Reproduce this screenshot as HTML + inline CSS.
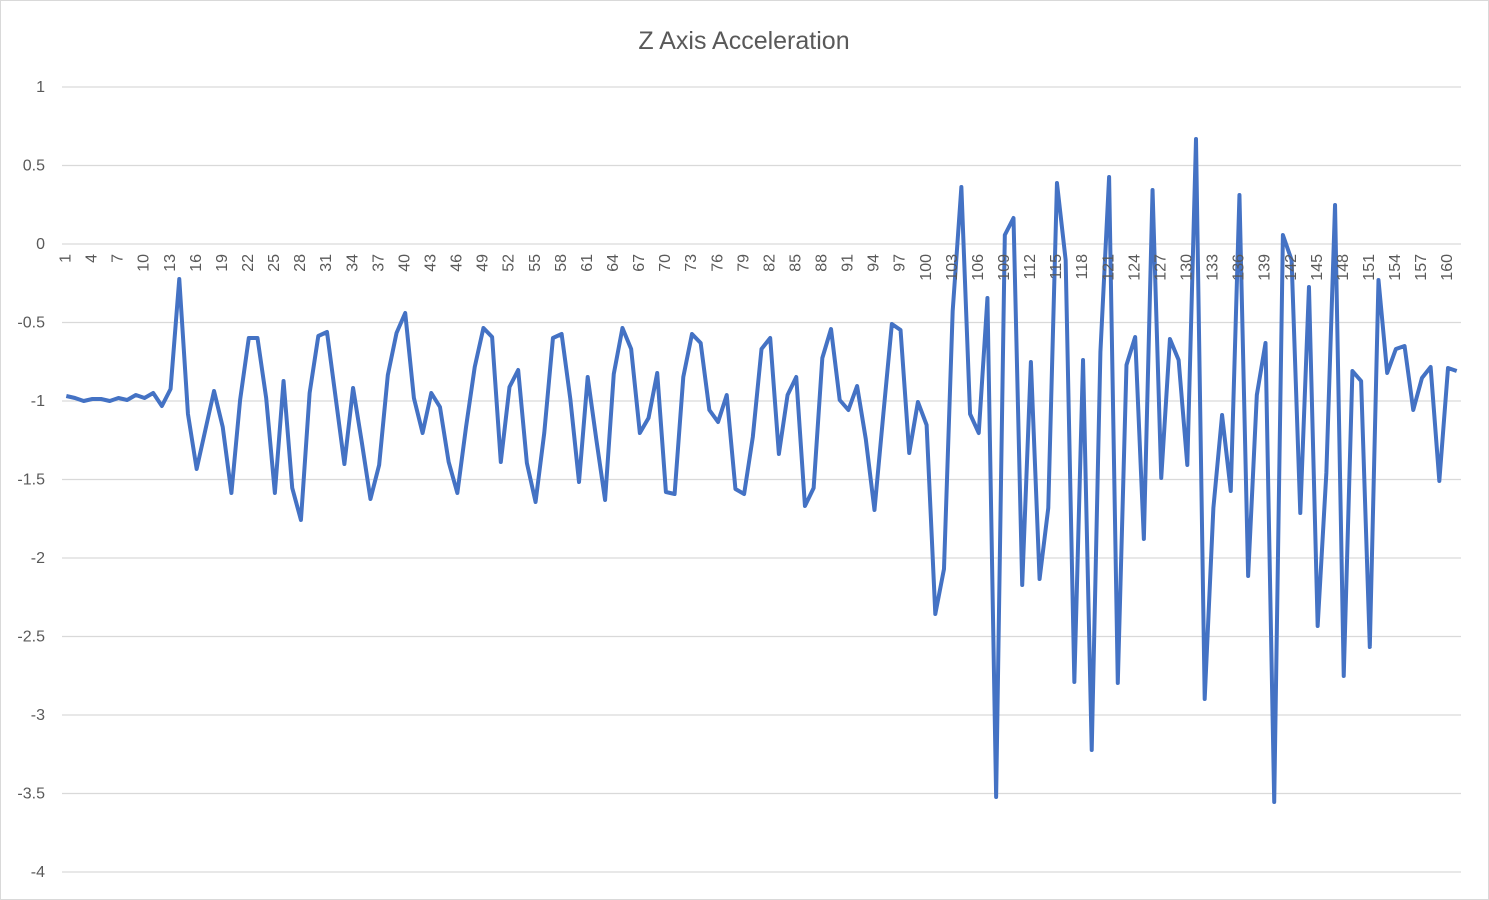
<!DOCTYPE html>
<html><head><meta charset="utf-8"><style>
html,body{margin:0;padding:0;background:#fff;}
svg{display:block;font-family:"Liberation Sans",sans-serif;}
</style></head><body>
<svg width="1489" height="900" viewBox="0 0 1489 900" xmlns="http://www.w3.org/2000/svg">
<rect x="0.5" y="0.5" width="1488" height="899" fill="#fff" stroke="#d9d9d9"/>
<text x="744" y="49" text-anchor="middle" font-size="25" fill="#595959">Z Axis Acceleration</text>
<g stroke="#d9d9d9" stroke-width="1.3">
<line x1="62" x2="1461" y1="87" y2="87"/><line x1="62" x2="1461" y1="165.5" y2="165.5"/><line x1="62" x2="1461" y1="244" y2="244"/><line x1="62" x2="1461" y1="322.5" y2="322.5"/><line x1="62" x2="1461" y1="401" y2="401"/><line x1="62" x2="1461" y1="479.5" y2="479.5"/><line x1="62" x2="1461" y1="558" y2="558"/><line x1="62" x2="1461" y1="636.5" y2="636.5"/><line x1="62" x2="1461" y1="715" y2="715"/><line x1="62" x2="1461" y1="793.5" y2="793.5"/><line x1="62" x2="1461" y1="872" y2="872"/>
</g>
<g font-size="16" fill="#595959" text-anchor="end" dominant-baseline="middle">
<text x="45" y="88">1</text><text x="45" y="166.5">0.5</text><text x="45" y="245">0</text><text x="45" y="323.5">-0.5</text><text x="45" y="402">-1</text><text x="45" y="480.5">-1.5</text><text x="45" y="559">-2</text><text x="45" y="637.5">-2.5</text><text x="45" y="716">-3</text><text x="45" y="794.5">-3.5</text><text x="45" y="873">-4</text>
</g>
<polyline fill="none" stroke="#4472C4" stroke-width="4" stroke-linejoin="round" vector-effect="non-scaling-stroke" transform="translate(66.3,0) scale(8.69,1)" points="0,396 1,398 2,401 3,399 4,399 5,401 6,398 7,400 8,395 9,398 10,393 11,406 12,389 13,279 14,414 15,469 16,430 17,391 18,427 19,493 20,400 21,338 22,338 23,398 24,493 25,381 26,488 27,520 28,393 29,336 30,332 31,398 32,464 33,388 34,442 35,499 36,465 37,375 38,333 39,313 40,398 41,433 42,393 43,407 44,462 45,493 46,427 47,367 48,328 49,337 50,462 51,387 52,370 53,463 54,502 55,433 56,338 57,334 58,399 59,482 60,377 61,440 62,500 63,374 64,328 65,349 66,433 67,418 68,373 69,492 70,494 71,377 72,334 73,343 74,410 75,422 76,395 77,489 78,494 79,437 80,349 81,338 82,454 83,395 84,377 85,506 86,488 87,358 88,329 89,400 90,410 91,386 92,439 93,510 94,416 95,324 96,330 97,453 98,402 99,425 100,614 101,569 102,311 103,187 104,414 105,433 106,298 107,797 108,235 109,218 110,585 111,362 112,579 113,508 114,183 115,260 116,682 117,360 118,750 119,352 120,177 121,683 122,365 123,337 124,539 125,190 126,478 127,339 128,360 129,465 130,139 131,699 132,508 133,415 134,491 135,195 136,576 137,395 138,343 139,802 140,235 141,260 142,513 143,287 144,626 145,473 146,205 147,676 148,371 149,381 150,647 151,280 152,373 153,349 154,346 155,410 156,378 157,367 158,481 159,368 160,371"/>
<g font-size="16" fill="#595959" text-anchor="end" dominant-baseline="middle">
<text transform="translate(66.3,254) rotate(-90)">1</text>
<text transform="translate(92.4,254) rotate(-90)">4</text>
<text transform="translate(118.4,254) rotate(-90)">7</text>
<text transform="translate(144.5,254) rotate(-90)">10</text>
<text transform="translate(170.6,254) rotate(-90)">13</text>
<text transform="translate(196.7,254) rotate(-90)">16</text>
<text transform="translate(222.7,254) rotate(-90)">19</text>
<text transform="translate(248.8,254) rotate(-90)">22</text>
<text transform="translate(274.9,254) rotate(-90)">25</text>
<text transform="translate(300.9,254) rotate(-90)">28</text>
<text transform="translate(327.0,254) rotate(-90)">31</text>
<text transform="translate(353.1,254) rotate(-90)">34</text>
<text transform="translate(379.1,254) rotate(-90)">37</text>
<text transform="translate(405.2,254) rotate(-90)">40</text>
<text transform="translate(431.3,254) rotate(-90)">43</text>
<text transform="translate(457.4,254) rotate(-90)">46</text>
<text transform="translate(483.4,254) rotate(-90)">49</text>
<text transform="translate(509.5,254) rotate(-90)">52</text>
<text transform="translate(535.6,254) rotate(-90)">55</text>
<text transform="translate(561.6,254) rotate(-90)">58</text>
<text transform="translate(587.7,254) rotate(-90)">61</text>
<text transform="translate(613.8,254) rotate(-90)">64</text>
<text transform="translate(639.8,254) rotate(-90)">67</text>
<text transform="translate(665.9,254) rotate(-90)">70</text>
<text transform="translate(692.0,254) rotate(-90)">73</text>
<text transform="translate(718.1,254) rotate(-90)">76</text>
<text transform="translate(744.1,254) rotate(-90)">79</text>
<text transform="translate(770.2,254) rotate(-90)">82</text>
<text transform="translate(796.3,254) rotate(-90)">85</text>
<text transform="translate(822.3,254) rotate(-90)">88</text>
<text transform="translate(848.4,254) rotate(-90)">91</text>
<text transform="translate(874.5,254) rotate(-90)">94</text>
<text transform="translate(900.5,254) rotate(-90)">97</text>
<text transform="translate(926.6,254) rotate(-90)">100</text>
<text transform="translate(952.7,254) rotate(-90)">103</text>
<text transform="translate(978.8,254) rotate(-90)">106</text>
<text transform="translate(1004.8,254) rotate(-90)">109</text>
<text transform="translate(1030.9,254) rotate(-90)">112</text>
<text transform="translate(1057.0,254) rotate(-90)">115</text>
<text transform="translate(1083.0,254) rotate(-90)">118</text>
<text transform="translate(1109.1,254) rotate(-90)">121</text>
<text transform="translate(1135.2,254) rotate(-90)">124</text>
<text transform="translate(1161.2,254) rotate(-90)">127</text>
<text transform="translate(1187.3,254) rotate(-90)">130</text>
<text transform="translate(1213.4,254) rotate(-90)">133</text>
<text transform="translate(1239.5,254) rotate(-90)">136</text>
<text transform="translate(1265.5,254) rotate(-90)">139</text>
<text transform="translate(1291.6,254) rotate(-90)">142</text>
<text transform="translate(1317.7,254) rotate(-90)">145</text>
<text transform="translate(1343.7,254) rotate(-90)">148</text>
<text transform="translate(1369.8,254) rotate(-90)">151</text>
<text transform="translate(1395.9,254) rotate(-90)">154</text>
<text transform="translate(1421.9,254) rotate(-90)">157</text>
<text transform="translate(1448.0,254) rotate(-90)">160</text>
</g>
</svg>
</body></html>
